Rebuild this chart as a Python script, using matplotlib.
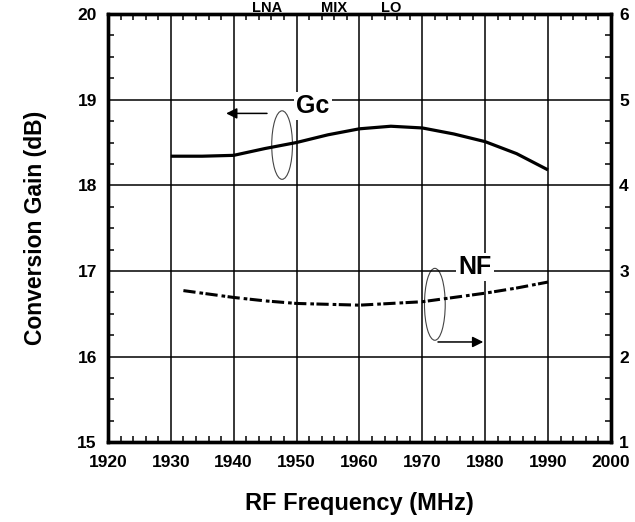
import matplotlib
matplotlib.use("Agg")
import matplotlib.pyplot as plt
from matplotlib.patches import Ellipse
from matplotlib.ticker import MultipleLocator

plt.rcParams['font.family'] = ['Liberation Sans', 'DejaVu Sans']
plt.rcParams['font.weight'] = 'bold'

# conversion gain (dB) vs RF frequency
gc_freq = [1930, 1935, 1940, 1945, 1950, 1955, 1960, 1965, 1970, 1975, 1980, 1985, 1990]
gc_db = [18.34, 18.34, 18.35, 18.43, 18.50, 18.59, 18.66, 18.69, 18.67, 18.60, 18.51, 18.37, 18.18]

# noise figure (dB) vs RF frequency
nf_freq = [1932, 1935, 1940, 1945, 1950, 1955, 1960, 1965, 1970, 1975, 1980, 1985, 1990]
nf_db = [2.77, 2.74, 2.69, 2.65, 2.62, 2.61, 2.60, 2.62, 2.64, 2.69, 2.74, 2.80, 2.87]

x_ticks = [1920, 1930, 1940, 1950, 1960, 1970, 1980, 1990, 2000]
gc_ticks = [15, 16, 17, 18, 19, 20]
nf_ticks = [1, 2, 3, 4, 5, 6]

fig = plt.figure(figsize=(6.35, 5.22), dpi=100)
ax = fig.add_axes([0.170, 0.153, 0.792, 0.820])
ax2 = ax.twinx()

ax.set_xlim(1920, 2000)
ax.set_ylim(15, 20)
ax2.set_ylim(1, 6)

ax.set_xticks(x_ticks)
ax.set_yticks(gc_ticks)
ax2.set_yticks(nf_ticks)
ax.xaxis.set_minor_locator(MultipleLocator(2))
ax.yaxis.set_minor_locator(MultipleLocator(0.25))
ax2.yaxis.set_minor_locator(MultipleLocator(0.25))

ax.grid(True, which='major', color='black', lw=1.1)
ax.tick_params(which='major', length=0, labelsize=12.5, pad=8)
ax.tick_params(axis='x', which='major', pad=9)
ax.tick_params(which='minor', direction='in', length=4, width=1.1,
               top=True, bottom=True, left=True, right=False)
ax2.tick_params(which='major', length=0, labelsize=12.5, pad=6)
ax2.tick_params(which='minor', direction='in', length=4, width=1.1)
for a in (ax, ax2):
    for s in a.spines.values():
        s.set_linewidth(2.4)
    for lab in a.get_xticklabels() + a.get_yticklabels():
        lab.set_fontweight('bold')

ax.plot(gc_freq, gc_db, color='black', lw=2.3, solid_capstyle='butt')
nf_line, = ax2.plot(nf_freq, nf_db, color='black', lw=2.2)
nf_line.set_dashes([4.0, 1.3, 1.2, 0.8])

ax.set_xlabel('RF Frequency (MHz)', fontsize=17, fontweight='bold', labelpad=16)
ax.set_ylabel('Conversion Gain (dB)', fontsize=16.5, fontweight='bold', labelpad=22)

arrow_style = dict(arrowstyle='-|>', color='black', lw=1.1, mutation_scale=16,
                   shrinkA=0, shrinkB=0)

# curve callouts
ax.add_patch(Ellipse((1947.7, 18.47), 3.3, 0.80, fill=False, lw=0.8, color='#444444'))
ax.annotate('', xy=(1938.8, 18.84), xytext=(1945.3, 18.84), arrowprops=arrow_style)
ax.text(1952.6, 18.93, 'Gc', fontsize=18, fontweight='bold', ha='center', va='center',
        bbox=dict(facecolor='white', edgecolor='none', pad=1.5))

ax.add_patch(Ellipse((1972.0, 16.61), 3.3, 0.84, fill=False, lw=0.8, color='#444444'))
ax.annotate('', xy=(1979.7, 16.17), xytext=(1972.5, 16.17), arrowprops=arrow_style)
ax.text(1978.4, 17.05, 'NF', fontsize=18, fontweight='bold', ha='center', va='center',
        bbox=dict(facecolor='white', edgecolor='none', pad=1.5))

# block labels along the top edge
for name, xp in [('LNA', 267), ('MIX', 334), ('LO', 391)]:
    fig.text(xp / 635, 1 - 11.5 / 522, name, fontsize=10.5, fontweight='bold',
             ha='center', va='baseline')

fig.savefig('out.png', dpi=100)
